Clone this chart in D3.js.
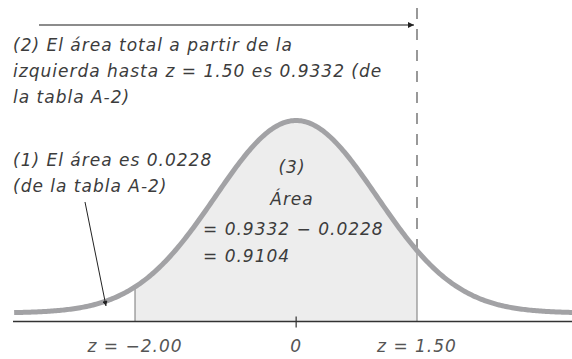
<!DOCTYPE html>
<html>
<head>
<meta charset="utf-8">
<script src="https://cdn.jsdelivr.net/npm/d3@7"></script>
<style>
  body { margin: 0; background: #fff; }
  text { font-family: "DejaVu Sans", sans-serif; font-style: italic; fill: #3c3c3c; letter-spacing: 1px; }
</style>
</head>
<body>
<div id="chartContainer"></div>
<script>
// values
var zLeft       = -2.00;
var zRight      = 1.50;
var zDomain     = [-3.5, 3.45];
var tickValues  = [0];
var zLabels     = ["z = \u22122.00", "0", "z = 1.50"];
var zLabelPos   = [-2.00, 0, 1.50];
var noteTop     = ["(2) El área total a partir de la", "izquierda hasta z = 1.50 es 0.9332 (de", "la tabla A-2)"];
var noteLeft    = ["(1) El área es 0.0228", "(de la tabla A-2)"];
var noteMid     = ["(3)", "Área", "= 0.9332 \u2212 0.0228", "= 0.9104"];

var width = 572, height = 359;

var svg = d3.select("#chartContainer")
  .append("svg")
    .attr("width", width)
    .attr("height", height);

// standard normal density
function pdf(z) { return Math.exp(-z * z / 2) / Math.sqrt(2 * Math.PI); }

var x = d3.scaleLinear()
  .domain([zLeft, zRight])
  .range([135, 417]);

var y = d3.scaleLinear()
  .domain([0, pdf(0)])
  .range([313, 120.5]);

var axisY = 321.5;

var curvePts = d3.range(zDomain[0], zDomain[1] + 0.001, 0.02);
var shadePts = d3.range(zLeft, zRight + 0.0001, 0.01);

// shaded area
svg.append("path")
  .datum(shadePts)
  .attr("fill", "#ededed")
  .attr("d", d3.area()
    .x(function(d) { return x(d); })
    .y0(axisY)
    .y1(function(d) { return y(pdf(d)); }));

// vertical bounds
[zLeft, zRight].forEach(function(z) {
  svg.append("line")
    .attr("x1", x(z)).attr("x2", x(z))
    .attr("y1", axisY).attr("y2", y(pdf(z)))
    .attr("stroke", "#777")
    .attr("stroke-width", 1);
});

// dashed line above z = 1.50
svg.append("line")
  .attr("x1", x(zRight)).attr("x2", x(zRight))
  .attr("y1", 8).attr("y2", y(pdf(zRight)))
  .attr("stroke", "#555")
  .attr("stroke-width", 1.2)
  .attr("stroke-dasharray", "11,10");

// the curve
svg.append("path")
  .datum(curvePts)
  .attr("fill", "none")
  .attr("stroke", "#a2a2a5")
  .attr("stroke-width", 5)
  .attr("d", d3.line()
    .x(function(d) { return x(d); })
    .y(function(d) { return y(pdf(d)); }));

// axis
svg.append("line")
  .attr("x1", 13).attr("x2", width)
  .attr("y1", axisY).attr("y2", axisY)
  .attr("stroke", "#333")
  .attr("stroke-width", 1.3);

svg.selectAll(".tick0")
  .data(tickValues)
  .enter().append("line")
    .attr("x1", function(d) { return x(d); })
    .attr("x2", function(d) { return x(d); })
    .attr("y1", axisY - 5).attr("y2", axisY + 6)
    .attr("stroke", "#333")
    .attr("stroke-width", 1.2);

svg.selectAll(".zlab")
  .data(zLabels)
  .enter().append("text")
    .attr("x", function(d, i) { return x(zLabelPos[i]); })
    .attr("y", 352)
    .attr("text-anchor", "middle")
    .style("font-size", "17px")
    .style("fill", "#555")
    .text(function(d) { return d; });

// arrow markers
var defs = svg.append("defs");
defs.append("marker")
  .attr("id", "head")
  .attr("viewBox", "0 0 10 10")
  .attr("refX", 10).attr("refY", 5)
  .attr("markerWidth", 7).attr("markerHeight", 5)
  .attr("markerUnits", "userSpaceOnUse")
  .attr("orient", "auto")
  .append("path")
    .attr("d", "M0,0L10,5L0,10Z")
    .attr("fill", "#222");
defs.append("marker")
  .attr("id", "head2")
  .attr("viewBox", "0 0 10 10")
  .attr("refX", 10).attr("refY", 5)
  .attr("markerWidth", 12).attr("markerHeight", 6)
  .attr("markerUnits", "userSpaceOnUse")
  .attr("orient", "auto")
  .append("path")
    .attr("d", "M0,0L10,5L0,10Z")
    .attr("fill", "#222");

// top arrow
svg.append("line")
  .attr("x1", 39).attr("x2", x(zRight) - 3)
  .attr("y1", 25).attr("y2", 25)
  .attr("stroke", "#666")
  .attr("stroke-width", 1.5)
  .attr("marker-end", "url(#head2)");

// arrow from note (1)
svg.append("line")
  .attr("x1", 85).attr("y1", 202)
  .attr("x2", 106).attr("y2", 306)
  .attr("stroke", "#222")
  .attr("stroke-width", 1)
  .attr("marker-end", "url(#head)");

// notes
svg.selectAll(".ntop")
  .data(noteTop)
  .enter().append("text")
    .attr("x", 13)
    .attr("y", function(d, i) { return 51 + i * 26; })
    .style("font-size", "17px")
    .text(function(d) { return d; });

svg.selectAll(".nleft")
  .data(noteLeft)
  .enter().append("text")
    .attr("x", 13)
    .attr("y", function(d, i) { return 166 + i * 26; })
    .style("font-size", "17px")
    .text(function(d) { return d; });

svg.selectAll(".nmid")
  .data(noteMid)
  .enter().append("text")
    .attr("x", function(d, i) { return i < 2 ? 292 : 203; })
    .attr("y", function(d, i) { return [173, 205, 235, 262][i]; })
    .attr("text-anchor", function(d, i) { return i < 2 ? "middle" : "start"; })
    .style("font-size", "17px")
    .text(function(d) { return d; });
</script>
</body>
</html>
